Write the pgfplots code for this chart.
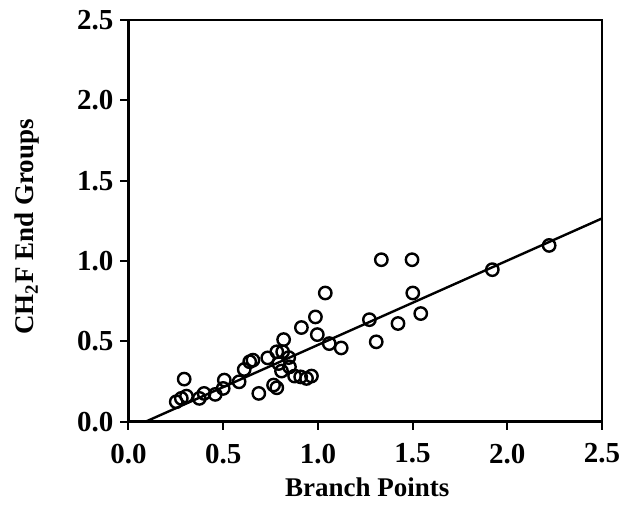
\documentclass[border=0pt]{standalone}
\usepackage{fontspec}
\setmainfont{Liberation Serif}
\usepackage{pgfplots}
\pgfplotsset{compat=1.18}
\begin{document}
\begin{tikzpicture}
\begin{axis}[
  scale only axis,
  width=236.75pt, height=200.85pt,
  xmin=0, xmax=2.5, ymin=0, ymax=2.5,
  xtick={0,0.5,1,1.5,2,2.5},
  ytick={0,0.5,1,1.5,2,2.5},
  xticklabel style={/pgf/number format/fixed,/pgf/number format/fixed zerofill,/pgf/number format/precision=1, yshift=-3.5pt},
  yticklabel style={/pgf/number format/fixed,/pgf/number format/fixed zerofill,/pgf/number format/precision=1},
  /pgf/number format/assume math mode=true,
  tick label style={font=\bfseries\fontsize{14.5}{17}\selectfont},
  label style={font=\bfseries\fontsize{13.5}{16}\selectfont},
  tick align=outside,
  xtick pos=bottom, ytick pos=left,
  major tick length=4pt,
  every tick/.style={black, line width=1pt},
  axis line style={line width=1.2pt},
  xlabel={Branch Points},
  ylabel={CH$_{\mathbf 2}$F End Groups},
  xlabel style={at={(axis description cs:0.504,-0.164)}, anchor=center},
  ylabel style={at={(axis description cs:-0.2144,0.485)}, anchor=center},
]
\addplot[only marks, mark=o, mark size=3.1pt, mark options={line width=1.2pt}, black] coordinates {
(0.252,0.124) (0.279,0.145) (0.294,0.265) (0.306,0.159) (0.374,0.145)
(0.399,0.176) (0.458,0.170) (0.500,0.207) (0.506,0.259) (0.584,0.248)
(0.611,0.325) (0.640,0.373) (0.657,0.383) (0.688,0.176) (0.735,0.397)
(0.766,0.228) (0.783,0.211) (0.783,0.435) (0.793,0.362) (0.808,0.315)
(0.814,0.435) (0.819,0.511) (0.850,0.341) (0.846,0.399) (0.877,0.284)
(0.913,0.586) (0.909,0.279) (0.940,0.269) (0.966,0.284) (0.987,0.652)
(0.997,0.542) (1.039,0.801) (1.060,0.486) (1.123,0.459) (1.272,0.635)
(1.308,0.497) (1.335,1.008) (1.423,0.611) (1.497,1.008) (1.501,0.801)
(1.543,0.673) (1.921,0.946) (2.221,1.097)
};
\addplot[black, line width=1.2pt] coordinates {(0.09,0) (2.5,1.265)};
\end{axis}
\pgfresetboundingbox
\path ([shift={(-64.25pt,-42.15pt)}]current axis.south west) rectangle ([shift={(10pt,10pt)}]current axis.north east);
\end{tikzpicture}
\end{document}
